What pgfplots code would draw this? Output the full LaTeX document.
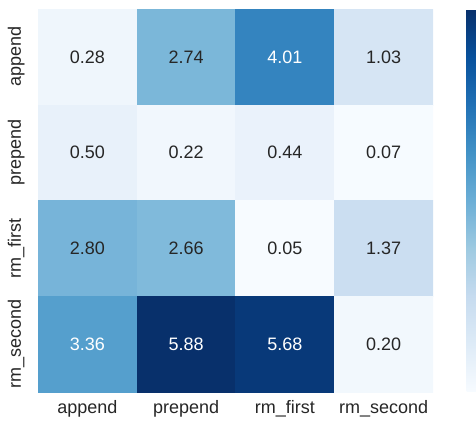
\documentclass[border=0pt]{standalone}
\usepackage{pgfplots}
\pgfplotsset{compat=1.18}
\usepackage{fontspec}
\setmainfont{Liberation Sans}
\definecolor{txt}{HTML}{262626}
\begin{document}
\begin{tikzpicture}
\begin{axis}[
  scale only axis,
  width=395pt, height=383pt,
  xmin=-0.5, xmax=3.5, ymin=-0.5, ymax=3.5,
  y dir=reverse,
  axis line style={draw=none},
  major tick length=0pt,
  xtick={0,1,2,3}, ytick={0,1,2,3},
  xticklabels={append,prepend,rm\_first,rm\_second},
  yticklabels={append,prepend,rm\_first,rm\_second},
  tick label style={font=\fontsize{18}{22}\selectfont, text=txt, inner sep=0pt},
  xticklabel style={anchor=north, text height=13pt, text depth=4pt},
  xticklabel shift=8pt,
  yticklabel style={rotate=90, anchor=south, text height=13pt, text depth=4pt},
  yticklabel shift=13pt,
  colormap={blues}{rgb255=(247,251,255) rgb255=(222,235,247) rgb255=(198,219,239) rgb255=(158,202,225) rgb255=(107,174,214) rgb255=(66,146,198) rgb255=(33,113,181) rgb255=(8,81,156) rgb255=(8,48,107)},
  point meta min=0.05, point meta max=5.88,
  colorbar,
  colorbar style={width=22pt, at={(parent axis.north east)}, anchor=north west, xshift=25pt, axis line style={draw=none}, ytick=\empty, xtick=\empty},
  nodes near coords style={font=\fontsize{18}{22}\selectfont, anchor=center},
]
\addplot[matrix plot*, mesh/cols=4, point meta=explicit] table[meta=c] {
x y c
0 0 0.28
1 0 2.74
2 0 4.01
3 0 1.03
0 1 0.50
1 1 0.22
2 1 0.44
3 1 0.07
0 2 2.80
1 2 2.66
2 2 0.05
3 2 1.37
0 3 3.36
1 3 5.88
2 3 5.68
3 3 0.20
};
\addplot[draw=none, mark=none, nodes near coords, point meta=explicit symbolic, nodes near coords style={text=txt}] coordinates {
(0,0) [0.28] (1,0) [2.74] (3,0) [1.03]
(0,1) [0.50] (1,1) [0.22] (2,1) [0.44] (3,1) [0.07]
(0,2) [2.80] (1,2) [2.66] (2,2) [0.05] (3,2) [1.37]
(3,3) [0.20]
};
\addplot[draw=none, mark=none, nodes near coords, point meta=explicit symbolic, nodes near coords style={text=white}] coordinates {
(2,0) [4.01] (0,3) [3.36] (1,3) [5.88] (2,3) [5.68]
};
\end{axis}
\pgfresetboundingbox
\useasboundingbox ([xshift=-38pt,yshift=-30pt]current axis.south west) rectangle ([xshift=43pt,yshift=9pt]current axis.north east);
\end{tikzpicture}
\end{document}
